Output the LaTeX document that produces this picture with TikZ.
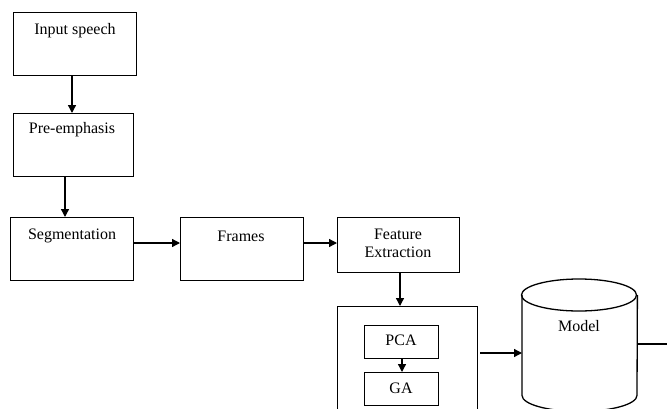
\documentclass[tikz,border=0pt]{standalone}
\usepackage{fontspec}
\setmainfont{Liberation Serif}
\usetikzlibrary{arrows.meta}
\begin{document}
\begin{tikzpicture}[x=1pt,y=-1pt,
  box/.style={draw, line width=1.3pt, inner sep=0pt, anchor=north west},
  lbl/.style={font=\fontsize{16}{18}\selectfont, inner sep=0pt, align=center},
  conn/.style={line width=1.3pt, -{Triangle[length=8pt,width=8pt]}},
  plain/.style={line width=1.3pt}]
\useasboundingbox (0,0) rectangle (667,408);
\clip (0,0) rectangle (667,408);
% boxes
\node[box, minimum width=123pt, minimum height=63pt] (in) at (13,12) {};
\node[lbl] (inT) at (75,31) {Input speech};
\node[box, minimum width=120pt, minimum height=63pt] (pre) at (13,113) {};
\node[lbl] (preT) at (72,130) {Pre-emphasis};
\node[box, minimum width=123pt, minimum height=63pt] (seg) at (10,217) {};
\node[lbl] (segT) at (72,236) {Segmentation};
\node[box, minimum width=123pt, minimum height=63pt] (fr) at (180,217) {};
\node[lbl] (frT) at (241,236) {Frames};
\node[box, minimum width=122pt, minimum height=55pt] (fe) at (337,217) {};
\node[lbl] (feT) at (398,243.5) {Feature\\[0pt]Extraction};
\node[box, minimum width=140pt, minimum height=110pt] (big) at (337,306) {};
\node[box, minimum width=74pt, minimum height=33pt] (pca) at (364,325) {};
\node[lbl] (pcaT) at (401,340) {PCA};
\node[box, minimum width=74pt, minimum height=33pt] (ga) at (364,372) {};
\node[lbl] (gaT) at (401,388) {GA};
% cylinder
\node[inner sep=0pt, minimum width=115pt, minimum height=100pt, anchor=north west] (cyl) at (522,295) {};
\draw[plain] (cyl.north west) -- (cyl.south west) arc[start angle=180, end angle=360, x radius=57.5pt, y radius=16pt]
  -- (cyl.north east);
\draw[plain] (579,295) ellipse[x radius=57.5pt, y radius=16pt];
\node[lbl] (cylT) at (579,326) {Model};
\coordinate (out) at (680,344);
% connectors
\draw[conn] (in.south -| 72,0) -- (pre.north -| 72,0);
\draw[conn] (pre.south -| 65,0) -- (seg.north -| 65,0);
\draw[conn] (seg.east |- 0,243) -- (fr.west |- 0,243);
\draw[conn] (fr.east |- 0,243) -- (fe.west |- 0,243);
\draw[conn] (fe.south -| 400,0) -- (big.north -| 400,0);
\draw[conn] (pca.south -| 402,0) -- (ga.north -| 402,0);
\draw[conn] (big.east |- 0,353) ++(2,0) -- (cyl.west |- 0,353);
\draw[plain] (cyl.east |- 0,344) -- (out);
\end{tikzpicture}
\end{document}
